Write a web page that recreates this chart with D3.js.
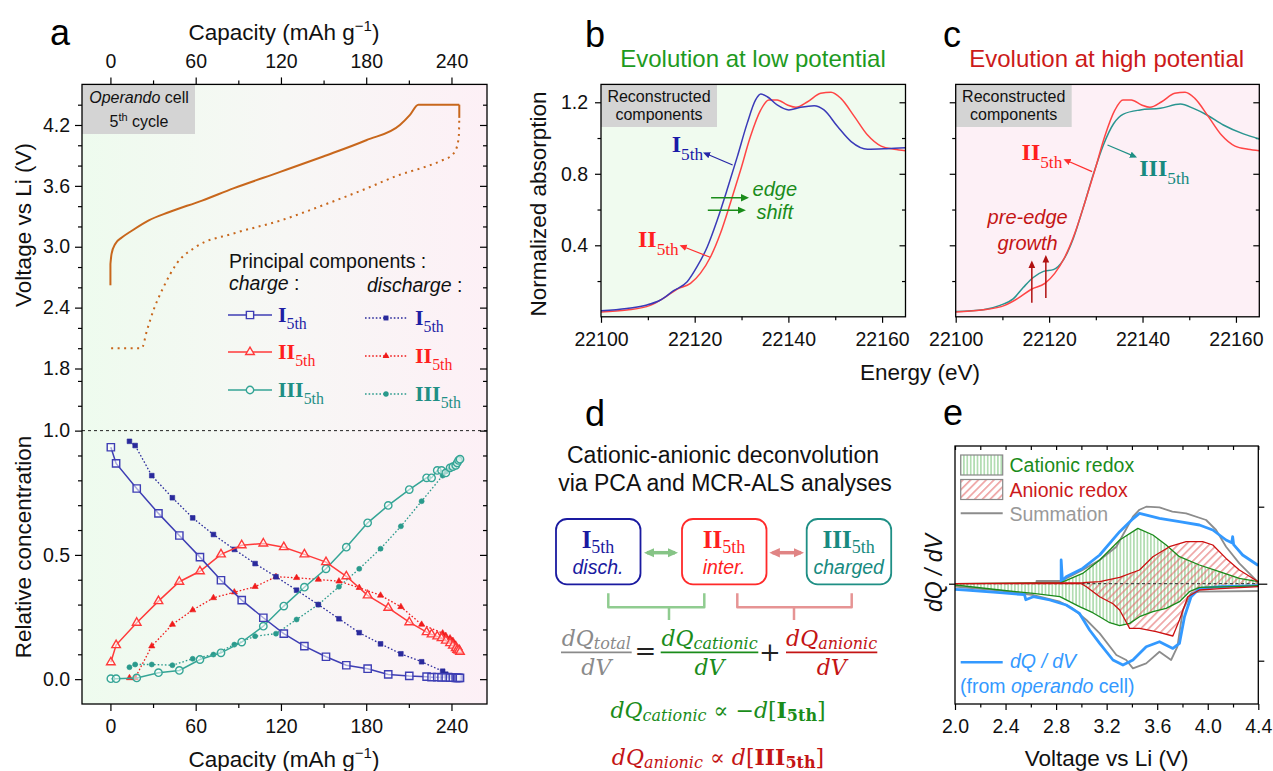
<!DOCTYPE html>
<html>
<head>
<meta charset="utf-8">
<script src="https://cdn.jsdelivr.net/npm/d3@7"></script>
<style>
  body { margin: 0; background: #fff; }
  svg { font-family: "Liberation Sans", Arial, sans-serif; }
</style>
</head>
<body>
<svg id="fig" width="1273" height="771"></svg>
<script>
// ---------- panel a : voltage profile, 5th cycle ----------
const chgCap  = [0, 0, 0.8, 3.5, 8, 15.3, 27, 41, 64.5, 86.5, 120, 149.8, 180, 203.7, 210.8, 216.7, 245.5, 245.5];
const chgVolt = [2.62, 2.83, 2.93, 3.03, 3.09, 3.16, 3.26, 3.34, 3.455, 3.575, 3.74, 3.89, 4.05, 4.2, 4.3, 4.4, 4.4, 4.27];
const disCap  = [245.5, 245.2, 243.5, 240, 234, 220, 203.7, 180.3, 149.8, 120, 86.5, 60.3, 46.7, 37.3, 30.2, 25.6, 22, 0.5];
const disVolt = [4.27, 4.1, 3.97, 3.9, 3.855, 3.78, 3.71, 3.575, 3.41, 3.26, 3.13, 3.0, 2.835, 2.6, 2.37, 2.17, 2.0, 2.0];

// ---------- panel a : relative concentrations ----------
const chgPts = [0.3, 4, 18.5, 33.8, 48.5, 63, 77.8, 92.4, 107.6, 122, 136.5, 151.7, 166, 181, 195.5, 210.3, 222.5, 226, 230, 233, 236, 239, 241, 243, 244, 245, 246];
const chgI   = [0.933, 0.868, 0.767, 0.667, 0.578, 0.491, 0.398, 0.318, 0.247, 0.183, 0.133, 0.090, 0.056, 0.042, 0.019, 0.013, 0.010, 0.008, 0.008, 0.007, 0.007, 0.006, 0.006, 0.005, 0.005, 0.005, 0.005];
const chgII  = [0.068, 0.137, 0.227, 0.314, 0.392, 0.434, 0.502, 0.539, 0.546, 0.531, 0.502, 0.471, 0.414, 0.337, 0.287, 0.229, 0.189, 0.180, 0.172, 0.165, 0.155, 0.145, 0.135, 0.125, 0.118, 0.115, 0.110];
const chgIII = [0.002, 0.002, 0.005, 0.026, 0.035, 0.079, 0.106, 0.149, 0.213, 0.294, 0.370, 0.444, 0.531, 0.629, 0.699, 0.763, 0.810, 0.810, 0.840, 0.840, 0.830, 0.850, 0.855, 0.860, 0.870, 0.880, 0.885];
const disPts = [13.4, 17.4, 29.1, 43.6, 57.9, 72.5, 87.2, 101.8, 116.5, 131, 146.3, 160.8, 175.1, 190.1, 204.4, 219, 233.8, 236, 239, 241, 243, 245.5];
const disI   = [0.957, 0.940, 0.819, 0.730, 0.649, 0.582, 0.522, 0.465, 0.412, 0.358, 0.300, 0.243, 0.187, 0.142, 0.102, 0.070, 0.032, 0.020, 0.015, 0.012, 0.010, 0.010];
const disII  = [0.005, 0.005, 0.133, 0.220, 0.278, 0.327, 0.350, 0.372, 0.412, 0.408, 0.401, 0.394, 0.368, 0.337, 0.291, 0.220, 0.185, 0.175, 0.165, 0.155, 0.140, 0.125];
const disIII = [0.048, 0.059, 0.059, 0.056, 0.082, 0.099, 0.139, 0.173, 0.183, 0.240, 0.300, 0.372, 0.444, 0.525, 0.615, 0.716, 0.819, 0.835, 0.845, 0.858, 0.868, 0.880];

const capTicks = [0, 60, 120, 180, 240];
const capMinor = [30, 90, 150, 210];
const voltTicks = [1.8, 2.4, 3.0, 3.6, 4.2];
const voltMinor = [2.0, 2.2, 2.6, 2.8, 3.2, 3.4, 3.8, 4.0, 4.4];
const concTicks = [0.0, 0.5, 1.0];
const concMinor = [0.1, 0.2, 0.3, 0.4, 0.6, 0.7, 0.8, 0.9, 1.1, 1.2];

// ---------- panels b, c : reconstructed XANES components ----------
const energyI  = [22100, 22105.5, 22109.8, 22112.7, 22115.5, 22118.4, 22120.5, 22122.7, 22124.8, 22126.9, 22129.1, 22131.2, 22133, 22134.1, 22135.5, 22137.6, 22140.1, 22142.6, 22145.5, 22147.6, 22150.5, 22153.4, 22156.9, 22161, 22165];
const absI     = [0.034, 0.047, 0.066, 0.094, 0.146, 0.196, 0.28, 0.392, 0.54, 0.709, 0.896, 1.082, 1.213, 1.246, 1.231, 1.185, 1.157, 1.172, 1.181, 1.157, 1.064, 0.98, 0.937, 0.94, 0.945];
const energyII = [22100, 22105.5, 22110.5, 22113.3, 22116.2, 22119.1, 22121.2, 22123.4, 22125.5, 22127.6, 22129.8, 22131.9, 22134.1, 22135.8, 22137.6, 22139.8, 22141.6, 22144.1, 22146.9, 22149.1, 22151.2, 22154.1, 22156.9, 22159.8, 22162.6, 22165];
const absII    = [0.027, 0.038, 0.064, 0.103, 0.154, 0.187, 0.243, 0.336, 0.467, 0.635, 0.821, 1.008, 1.157, 1.213, 1.213, 1.185, 1.172, 1.203, 1.25, 1.256, 1.222, 1.12, 1.017, 0.955, 0.937, 0.929];
const energyIII = [22100, 22105.9, 22109.5, 22112.3, 22114.5, 22116.6, 22118.8, 22120.9, 22123.1, 22125.2, 22127.3, 22129.5, 22131.6, 22133.8, 22135.9, 22139.5, 22143.8, 22148.1, 22150.9, 22153.8, 22157.3, 22161.6, 22165];
const absIII    = [0.03, 0.04, 0.064, 0.1, 0.165, 0.22, 0.254, 0.264, 0.32, 0.44, 0.61, 0.8, 0.96, 1.08, 1.134, 1.157, 1.166, 1.19, 1.166, 1.129, 1.073, 1.023, 0.995];
const eTicks = [22100, 22120, 22140, 22160];
const eMinor = [22110, 22130, 22150];
const absTicks = [0.4, 0.8, 1.2];
const absMinor = [0.2, 0.6, 1.0];

// ---------- panel e : dQ/dV (arbitrary units) ----------
const blueUpV  = [2.84, 2.84, 2.85, 2.88, 3.01, 3.145, 3.303, 3.40, 3.46, 3.50, 3.618, 3.776, 3.934, 4.04, 4.145, 4.19, 4.197, 4.205, 4.276, 4.394, 4.4];
const blueUpQ  = [0.0, 0.237, 0.03, 0.07, 0.153, 0.287, 0.52, 0.64, 0.703, 0.69, 0.653, 0.62, 0.587, 0.537, 0.437, 0.41, 0.47, 0.39, 0.287, 0.187, 0.185];
const blueLoV  = [2.0, 2.09, 2.355, 2.55, 2.56, 2.62, 2.75, 2.88, 2.985, 3.065, 3.145, 3.25, 3.329, 3.408, 3.513, 3.618, 3.724, 3.776, 3.816, 3.868, 3.934, 4.1, 4.4];
const blueLoQ  = [-0.057, -0.063, -0.09, -0.11, -0.16, -0.13, -0.163, -0.213, -0.297, -0.463, -0.597, -0.763, -0.813, -0.763, -0.63, -0.58, -0.647, -0.597, -0.33, -0.13, -0.047, -0.03, -0.02];
const grayUpV  = [2.645, 2.645, 2.84, 3.01, 3.145, 3.277, 3.408, 3.46, 3.513, 3.618, 3.72, 3.829, 3.987, 4.066, 4.145, 4.25, 4.394, 4.4];
const grayUpQ  = [0.0, 0.027, 0.027, 0.137, 0.237, 0.37, 0.67, 0.74, 0.77, 0.763, 0.72, 0.703, 0.637, 0.537, 0.37, 0.203, 0.02, 0.01];
const grayLoV  = [2.0, 2.355, 2.62, 2.83, 2.93, 3.04, 3.145, 3.277, 3.355, 3.408, 3.513, 3.618, 3.71, 3.76, 3.803, 3.868, 3.934, 4.4];
const grayLoQ  = [-0.03, -0.07, -0.113, -0.18, -0.247, -0.363, -0.497, -0.713, -0.763, -0.847, -0.797, -0.68, -0.763, -0.63, -0.263, -0.097, -0.08, -0.073];
const catUpV   = [2.0, 2.84, 3.01, 3.145, 3.303, 3.447, 3.566, 3.671, 3.776, 3.934, 4.092, 4.25, 4.4];
const catUpQ   = [0, 0.01, 0.103, 0.237, 0.437, 0.553, 0.487, 0.387, 0.27, 0.187, 0.12, 0.053, 0.02];
const catLoV   = [2.0, 2.355, 2.62, 2.83, 2.985, 3.09, 3.145, 3.224, 3.303, 3.382, 3.46, 3.566, 3.671, 3.776, 3.855, 3.934, 4.195, 4.4];
const catLoQ   = [-0.013, -0.063, -0.097, -0.13, -0.23, -0.29, -0.33, -0.39, -0.42, -0.397, -0.33, -0.28, -0.247, -0.18, -0.08, -0.037, -0.03, -0.02];
const anUpV    = [2.0, 3.01, 3.145, 3.303, 3.46, 3.566, 3.697, 3.829, 3.96, 4.04, 4.145, 4.25, 4.4];
const anUpQ    = [0, 0.01, 0.02, 0.063, 0.137, 0.27, 0.37, 0.42, 0.42, 0.387, 0.253, 0.137, 0.02];
const anLoV    = [2.0, 3.0, 3.04, 3.145, 3.25, 3.303, 3.382, 3.46, 3.592, 3.724, 3.776, 3.842, 3.934, 4.1, 4.4];
const anLoQ    = [0, 0, -0.03, -0.13, -0.2, -0.263, -0.447, -0.447, -0.48, -0.523, -0.363, -0.13, -0.063, -0.05, -0.03];
const vTicks = [2.0, 2.4, 2.8, 3.2, 3.6, 4.0, 4.4];
const vMinor = [2.2, 2.6, 3.0, 3.4, 3.8, 4.2];
const dqTicks = [-0.77, 0.77];

const NAVY = "#2626a6", RED = "#ff2f2f", TEAL = "#1f8f85", GREEN = "#1a8c1a", DRED = "#c41414";
const SERIF = "'Liberation Serif', 'Times New Roman', serif";

const svg = d3.select("#fig");
svg.append("rect").attr("width", 1273).attr("height", 771).attr("fill", "#fff");
const defs = svg.append("defs");

const grad = defs.append("linearGradient").attr("id", "bgA")
  .attr("x1", 0).attr("x2", 1).attr("y1", 0).attr("y2", 0);
grad.append("stop").attr("offset", 0).attr("stop-color", "#eefbee");
grad.append("stop").attr("offset", 0.5).attr("stop-color", "#f7f7f5");
grad.append("stop").attr("offset", 1).attr("stop-color", "#fdf0f6");

const hg = defs.append("pattern").attr("id", "hatchG").attr("patternUnits", "userSpaceOnUse")
  .attr("width", 3.4).attr("height", 10);
hg.append("line").attr("x1", 1.7).attr("x2", 1.7).attr("y1", 0).attr("y2", 10)
  .attr("stroke", "#6dbf6d").attr("stroke-width", 0.9);
const hr = defs.append("pattern").attr("id", "hatchR").attr("patternUnits", "userSpaceOnUse")
  .attr("width", 5.5).attr("height", 10).attr("patternTransform", "rotate(45)");
hr.append("line").attr("x1", 2.7).attr("x2", 2.7).attr("y1", 0).attr("y2", 10)
  .attr("stroke", "#e26666").attr("stroke-width", 1);

function arrowHead(id, color, w) {
  defs.append("marker").attr("id", id).attr("viewBox", "0 0 10 10")
    .attr("refX", 7).attr("refY", 5).attr("markerWidth", w).attr("markerHeight", w)
    .attr("orient", "auto-start-reverse")
    .append("path").attr("d", "M0,0.5 L10,5 L0,9.5 Z").attr("fill", color);
}
arrowHead("arNavy", NAVY, 6);
arrowHead("arRed", RED, 6);
arrowHead("arTeal", TEAL, 6);
arrowHead("arGreen", GREEN, 6);
arrowHead("arDred", "#b01010", 5);
arrowHead("arLG", "#86c486", 3);
arrowHead("arLR", "#e08484", 3);

function styleAxis(g, fs) {
  g.select(".domain").remove();
  g.selectAll(".tick line").attr("stroke", "#000").attr("stroke-width", 1.2);
  g.selectAll(".tick text").attr("font-size", fs).attr("fill", "#111")
    .attr("font-family", "'Liberation Sans', Arial, sans-serif");
}
function addAxis(axis, tx, ty) {
  const g = svg.append("g").attr("transform", `translate(${tx},${ty})`).call(axis);
  styleAxis(g, 19.5);
  return g;
}
function romanLabel(parent, x, y, roman, color, fs, anchor, subDy) {
  const t = parent.append("text").attr("x", x).attr("y", y).attr("fill", color)
    .attr("font-family", SERIF).attr("text-anchor", anchor || "start");
  t.append("tspan").attr("font-weight", "bold").attr("font-size", fs).text(roman);
  t.append("tspan").attr("font-size", fs * 0.72).attr("dy", subDy == null ? fs * 0.33 : subDy).text("5th");
  return t;
}
function capTitle(x, y) {
  const t = svg.append("text").attr("x", x).attr("y", y).attr("text-anchor", "middle")
    .attr("font-size", 22.5).attr("fill", "#111");
  t.append("tspan").text("Capacity (mAh g");
  t.append("tspan").attr("font-size", 15).attr("dy", -9).text("\u22121");
  t.append("tspan").attr("dy", 9).text(")");
}

// =================== panel a ===================
const aX = d3.scaleLinear().domain([-20, 265]).range([82, 487]);
const aV = d3.scaleLinear().domain([1.8, 4.6]).range([368.5, 84.4]);
const aC = d3.scaleLinear().domain([-0.1, 1.25]).range([704, 368.5]);

svg.append("rect").attr("x", 82).attr("y", 84.4).attr("width", 405).attr("height", 619.6).attr("fill", "url(#bgA)");
svg.append("rect").attr("x", 82).attr("y", 84.4).attr("width", 113).attr("height", 49.6).attr("fill", "#d4d4d4");
const opc = svg.append("text").attr("x", 139).attr("y", 103).attr("text-anchor", "middle").attr("font-size", 16).attr("fill", "#111");
opc.append("tspan").attr("font-style", "italic").text("Operando");
opc.append("tspan").text(" cell");
const cyc = svg.append("text").attr("x", 139).attr("y", 127).attr("text-anchor", "middle").attr("font-size", 16).attr("fill", "#111");
cyc.append("tspan").text("5");
cyc.append("tspan").attr("font-size", 11).attr("dy", -6).text("th");
cyc.append("tspan").attr("dy", 6).text(" cycle");

// dashed reference at 1.0
svg.append("line").attr("x1", 82).attr("x2", 487).attr("y1", aC(1)).attr("y2", aC(1))
  .attr("stroke", "#222").attr("stroke-width", 1).attr("stroke-dasharray", "3,3");

// voltage curves: vertical ends drawn straight, the rest smoothed
function voltPath(xs, ys, dash) {
  const pts = xs.map((x, i) => [aX(x), aV(ys[i])]);
  const segs = [];
  let start = 0;
  for (let i = 1; i < pts.length; i++) {
    if (xs[i] === xs[i - 1]) {
      if (i - 1 > start) segs.push({ p: pts.slice(start, i), smooth: true });
      segs.push({ p: [pts[i - 1], pts[i]], smooth: false });
      start = i;
    }
  }
  if (pts.length - 1 > start) segs.push({ p: pts.slice(start), smooth: true });
  segs.forEach(s => {
    const ordered = s.p[0][0] > s.p[s.p.length - 1][0] ? s.p.slice().reverse() : s.p;
    const line = d3.line().curve(s.smooth ? d3.curveMonotoneX : d3.curveLinear);
    svg.append("path").attr("d", line(ordered)).attr("fill", "none")
      .attr("stroke", "#c8671c").attr("stroke-width", 2).attr("stroke-dasharray", dash);
  });
}
voltPath(chgCap, chgVolt, null);
voltPath(disCap, disVolt, "2,4.5");

// concentration series
function concSeries(xs, ys, color, sym, open, dotted) {
  const line = d3.line().x((d, i) => aX(xs[i])).y((d, i) => aC(ys[i]));
  svg.append("path").attr("d", line(xs)).attr("fill", "none").attr("stroke", color)
    .attr("stroke-width", dotted ? 1.3 : 1.5).attr("stroke-dasharray", dotted ? "1.6,2" : null);
  const sizes = open ? { sq: 53, tri: 32, cir: 43 } : { sq: 22, tri: 17, cir: 20 };
  const shape = sym === "sq" ? d3.symbolSquare : sym === "tri" ? d3.symbolTriangle : d3.symbolCircle;
  svg.append("g").selectAll("path").data(xs).join("path")
    .attr("transform", (d, i) => `translate(${aX(d)},${aC(ys[i])})`)
    .attr("d", d3.symbol().type(shape).size(sizes[sym]))
    .attr("fill", open ? "rgba(255,255,255,0.55)" : color)
    .attr("stroke", color).attr("stroke-width", open ? 1.4 : 0.6);
}
concSeries(disPts, disIII, "#2a9a8c", "cir", false, true);
concSeries(disPts, disII, "#f01c1c", "tri", false, true);
concSeries(disPts, disI, "#2a2a9c", "sq", false, true);
concSeries(chgPts, chgIII, "#35a596", "cir", true, false);
concSeries(chgPts, chgII, "#ff3a3a", "tri", true, false);
concSeries(chgPts, chgI, "#3e3eb4", "sq", true, false);

// frame and axes
svg.append("rect").attr("x", 82).attr("y", 84.4).attr("width", 405).attr("height", 619.6)
  .attr("fill", "none").attr("stroke", "#000").attr("stroke-width", 1.3);
addAxis(d3.axisTop(aX).tickValues(capTicks).tickSize(7).tickPadding(9), 0, 84.4);
addAxis(d3.axisTop(aX).tickValues(capMinor).tickSize(4).tickFormat(""), 0, 84.4);
addAxis(d3.axisBottom(aX).tickValues(capTicks).tickSize(7).tickPadding(8), 0, 704);
addAxis(d3.axisBottom(aX).tickValues(capMinor).tickSize(4).tickFormat(""), 0, 704);
addAxis(d3.axisLeft(aV).tickValues(voltTicks).tickSize(7).tickPadding(5).tickFormat(d3.format(".1f")), 82, 0);
addAxis(d3.axisLeft(aV).tickValues(voltMinor).tickSize(4).tickFormat(""), 82, 0);
addAxis(d3.axisRight(aV).tickValues(voltTicks).tickSize(-7).tickFormat(""), 487, 0);
addAxis(d3.axisRight(aV).tickValues(voltMinor).tickSize(-4).tickFormat(""), 487, 0);
addAxis(d3.axisLeft(aC).tickValues(concTicks).tickSize(7).tickPadding(5).tickFormat(d3.format(".1f")), 82, 0);
addAxis(d3.axisLeft(aC).tickValues(concMinor).tickSize(4).tickFormat(""), 82, 0);
addAxis(d3.axisRight(aC).tickValues(concTicks).tickSize(-7).tickFormat(""), 487, 0);
addAxis(d3.axisRight(aC).tickValues(concMinor).tickSize(-4).tickFormat(""), 487, 0);

capTitle(284, 40);
capTitle(284, 767);
svg.append("text").attr("transform", "translate(31,225) rotate(-90)").attr("text-anchor", "middle")
  .attr("font-size", 22.5).attr("fill", "#111").text("Voltage vs Li (V)");
svg.append("text").attr("transform", "translate(31,547) rotate(-90)").attr("text-anchor", "middle")
  .attr("font-size", 22.5).attr("fill", "#111").text("Relative concentration");
svg.append("text").attr("x", 50).attr("y", 45).attr("font-size", 36).attr("fill", "#000").text("a");

// legend in panel a
svg.append("text").attr("x", 229).attr("y", 268).attr("font-size", 19.5).attr("fill", "#111").text("Principal components :");
const lc = svg.append("text").attr("x", 229).attr("y", 290).attr("font-size", 19.5).attr("fill", "#111");
lc.append("tspan").attr("font-style", "italic").text("charge");
lc.append("tspan").text(" :");
const ld = svg.append("text").attr("x", 367).attr("y", 292).attr("font-size", 19.5).attr("fill", "#111");
ld.append("tspan").attr("font-style", "italic").text("discharge");
ld.append("tspan").text(" :");

const legRows = [
  { roman: "I", line: "#3e3eb4", dline: "#2a2a9c", txt: "#1f1fa5", sym: d3.symbolSquare, so: 53, sf: 24, yc: 315, yd: 318 },
  { roman: "II", line: "#ff3a3a", dline: "#f01c1c", txt: "#ff1f1f", sym: d3.symbolTriangle, so: 32, sf: 20, yc: 352, yd: 356 },
  { roman: "III", line: "#35a596", dline: "#2a9a8c", txt: "#1f8f85", sym: d3.symbolCircle, so: 43, sf: 22, yc: 390, yd: 394 }
];
legRows.forEach(r => {
  svg.append("line").attr("x1", 228).attr("x2", 272).attr("y1", r.yc).attr("y2", r.yc)
    .attr("stroke", r.line).attr("stroke-width", 1.5);
  svg.append("path").attr("transform", `translate(250,${r.yc})`).attr("d", d3.symbol().type(r.sym).size(r.so))
    .attr("fill", "#f6f8f6").attr("stroke", r.line).attr("stroke-width", 1.4);
  romanLabel(svg, 278, r.yc + 7, r.roman, r.txt, 22);
  svg.append("line").attr("x1", 365).attr("x2", 407).attr("y1", r.yd).attr("y2", r.yd)
    .attr("stroke", r.dline).attr("stroke-width", 1.3).attr("stroke-dasharray", "1.6,2");
  svg.append("path").attr("transform", `translate(386,${r.yd})`).attr("d", d3.symbol().type(r.sym).size(r.sf))
    .attr("fill", r.dline);
  romanLabel(svg, 415, r.yd + 7, r.roman, r.txt, 22);
});

// =================== panels b and c ===================
const bX = d3.scaleLinear().domain([22100, 22165]).range([601, 905.5]);
const cX = d3.scaleLinear().domain([22100, 22165]).range([955.7, 1259.3]);
const bY = d3.scaleLinear().domain([0, 1.3]).range([316.8, 84.4]);

function xanesPanel(xS, bg, left, right, labels) {
  svg.append("rect").attr("x", left).attr("y", 84.4).attr("width", right - left).attr("height", 232.4).attr("fill", bg);
  svg.append("rect").attr("x", left).attr("y", 84.4).attr("width", 116).attr("height", 42.6).attr("fill", "#d4d4d4");
  svg.append("text").attr("x", left + 58).attr("y", 102).attr("text-anchor", "middle").attr("font-size", 16).attr("fill", "#111").text("Reconstructed");
  svg.append("text").attr("x", left + 58).attr("y", 120).attr("text-anchor", "middle").attr("font-size", 16).attr("fill", "#111").text("components");
  addAxis(d3.axisBottom(xS).tickValues(eTicks).tickSize(6).tickPadding(9.4).tickFormat(d3.format("d")), 0, 316.8);
  addAxis(d3.axisBottom(xS).tickValues(eMinor).tickSize(3.5).tickFormat(""), 0, 316.8);
  const la = d3.axisLeft(bY).tickValues(absTicks).tickSize(6).tickPadding(7);
  addAxis(labels ? la.tickFormat(d3.format(".1f")) : la.tickFormat(""), left, 0);
  addAxis(d3.axisLeft(bY).tickValues(absMinor).tickSize(3.5).tickFormat(""), left, 0);
  addAxis(d3.axisRight(bY).tickValues(absTicks).tickSize(-6).tickFormat(""), right, 0);
  addAxis(d3.axisRight(bY).tickValues(absMinor).tickSize(-3.5).tickFormat(""), right, 0);
}
function xanesCurve(xS, xs, ys, color) {
  const line = d3.line().curve(d3.curveMonotoneX).x((d, i) => xS(xs[i])).y((d, i) => bY(ys[i]));
  svg.append("path").attr("d", line(xs)).attr("fill", "none").attr("stroke", color).attr("stroke-width", 1.5);
}
function frame(left, right, top, bottom) {
  svg.append("rect").attr("x", left).attr("y", top).attr("width", right - left).attr("height", bottom - top)
    .attr("fill", "none").attr("stroke", "#000").attr("stroke-width", 1.3);
}
function arrow(x1, y1, x2, y2, color, marker, w) {
  svg.append("line").attr("x1", x1).attr("y1", y1).attr("x2", x2).attr("y2", y2)
    .attr("stroke", color).attr("stroke-width", w || 1.2).attr("marker-end", `url(#${marker})`);
}

// panel b
xanesPanel(bX, "#f0fbef", 601, 905.5, true);
xanesCurve(bX, energyII, absII, "#ff4545");
xanesCurve(bX, energyI, absI, "#3a3ab8");
frame(601, 905.5, 84.4, 316.8);
svg.append("text").attr("x", 585).attr("y", 46.7).attr("font-size", 36).attr("fill", "#000").text("b");
svg.append("text").attr("x", 753).attr("y", 66.7).attr("text-anchor", "middle").attr("font-size", 24)
  .attr("fill", "#1e9a1e").text("Evolution at low potential");
romanLabel(svg, bX(22115.1), bY(0.924), "I", "#1a1aa8", 24);
arrow(bX(22128.1), bY(0.849), bX(22122.2), bY(0.915), NAVY, "arNavy");
romanLabel(svg, bX(22107.9), bY(0.392), "II", "#ff1f1f", 24);
arrow(bX(22123.3), bY(0.333), bX(22117.2), bY(0.396), RED, "arRed");
arrow(bX(22123.5), bY(0.666), bX(22131.1), bY(0.666), GREEN, "arGreen", 1.4);
arrow(bX(22122.8), bY(0.596), bX(22130.4), bY(0.596), GREEN, "arGreen", 1.4);
svg.append("text").attr("x", bX(22137.1)).attr("y", bY(0.676)).attr("text-anchor", "middle")
  .attr("font-size", 20).attr("font-style", "italic").attr("fill", GREEN).text("edge");
svg.append("text").attr("x", bX(22137.1)).attr("y", bY(0.545)).attr("text-anchor", "middle")
  .attr("font-size", 20).attr("font-style", "italic").attr("fill", GREEN).text("shift");
svg.append("text").attr("transform", "translate(546,204) rotate(-90)").attr("text-anchor", "middle")
  .attr("font-size", 22.5).attr("fill", "#111").text("Normalized absorption");

// panel c
xanesPanel(cX, "#fdf0f6", 955.7, 1259.3, false);
xanesCurve(cX, energyIII, absIII, "#2a9590");
xanesCurve(cX, energyII, absII, "#ff4545");
frame(955.7, 1259.3, 84.4, 316.8);
svg.append("text").attr("x", 943).attr("y", 46.7).attr("font-size", 36).attr("fill", "#000").text("c");
svg.append("text").attr("x", 1106.7).attr("y", 66.7).attr("text-anchor", "middle").attr("font-size", 24)
  .attr("fill", "#cc1a1a").text("Evolution at high potential");
romanLabel(svg, cX(22114.1), bY(0.877), "II", "#ff1f1f", 24);
arrow(cX(22129.2), bY(0.812), cX(22123.5), bY(0.877), RED, "arRed");
romanLabel(svg, cX(22139.3), bY(0.788), "III", "#178a80", 24);
arrow(cX(22132.5), bY(0.961), cX(22138.4), bY(0.896), TEAL, "arTeal");
svg.append("text").attr("x", cX(22115.4)).attr("y", bY(0.519)).attr("text-anchor", "middle")
  .attr("font-size", 20).attr("font-style", "italic").attr("fill", "#c41414").text("pre-edge");
svg.append("text").attr("x", cX(22115.4)).attr("y", bY(0.374)).attr("text-anchor", "middle")
  .attr("font-size", 20).attr("font-style", "italic").attr("fill", "#c41414").text("growth");
arrow(cX(22116.3), bY(0.079), cX(22116.3), bY(0.303), "#b01010", "arDred", 1.5);
arrow(cX(22119.3), bY(0.105), cX(22119.3), bY(0.333), "#b01010", "arDred", 1.5);

svg.append("text").attr("x", 920).attr("y", 380).attr("text-anchor", "middle").attr("font-size", 22.5)
  .attr("fill", "#111").text("Energy (eV)");

// =================== panel d ===================
svg.append("text").attr("x", 585).attr("y", 426).attr("font-size", 36).attr("fill", "#000").text("d");
svg.append("text").attr("x", 723).attr("y", 463).attr("text-anchor", "middle").attr("font-size", 23)
  .attr("fill", "#111").text("Cationic-anionic deconvolution");
svg.append("text").attr("x", 725).attr("y", 490.5).attr("text-anchor", "middle").attr("font-size", 23)
  .attr("fill", "#111").text("via PCA and MCR-ALS analyses");

const boxes = [
  { x: 556, roman: "I", word: "disch.", stroke: "#1a1aa0", txt: "#1a1aa0" },
  { x: 682, roman: "II", word: "inter.", stroke: "#ff2a2a", txt: "#ff1f1f" },
  { x: 806.7, roman: "III", word: "charged", stroke: TEAL, txt: "#178a80" }
];
boxes.forEach(b => {
  svg.append("rect").attr("x", b.x).attr("y", 519).attr("width", 84.5).attr("height", 65.3)
    .attr("rx", 11).attr("fill", "#fff").attr("stroke", b.stroke).attr("stroke-width", 1.8);
  romanLabel(svg, b.x + 42, 548.3, b.roman, b.txt, 25, "middle", 4.5);
  svg.append("text").attr("x", b.x + 42).attr("y", 574).attr("text-anchor", "middle").attr("font-size", 19.5)
    .attr("font-style", "italic").attr("fill", b.txt).text(b.word);
});
svg.append("line").attr("x1", 647).attr("x2", 675).attr("y1", 552.7).attr("y2", 552.7)
  .attr("stroke", "#86c486").attr("stroke-width", 3.5)
  .attr("marker-start", "url(#arLG)").attr("marker-end", "url(#arLG)");
svg.append("line").attr("x1", 772.5).attr("x2", 801).attr("y1", 552.7).attr("y2", 552.7)
  .attr("stroke", "#e08484").attr("stroke-width", 3.5)
  .attr("marker-start", "url(#arLR)").attr("marker-end", "url(#arLR)");
svg.append("path").attr("d", "M608.3,593.3 V607.3 H704.3 V593.3 M669,607.3 V620")
  .attr("fill", "none").attr("stroke", "#90cc90").attr("stroke-width", 2.5).attr("stroke-linejoin", "round");
svg.append("path").attr("d", "M737.3,593.3 V607.3 H851.7 V593.3 M794,607.3 V620")
  .attr("fill", "none").attr("stroke", "#e69494").attr("stroke-width", 2.5).attr("stroke-linejoin", "round");

const MATH = "'DejaVu Serif', 'Liberation Serif', serif";
function mathText(x, y, color, pieces) {
  const t = svg.append("text").attr("x", x).attr("y", y).attr("text-anchor", "middle")
    .attr("fill", color).attr("font-family", MATH);
  pieces.forEach(p => {
    t.append("tspan").attr("font-size", p[1]).attr("font-style", p[2] ? "italic" : "normal")
      .attr("font-weight", p[3] ? "bold" : "normal").attr("dy", p[4] || 0).text(p[0]);
  });
}
function fraction(x1, x2, color, sub) {
  const cx = (x1 + x2) / 2;
  mathText(cx, 646, color, [["dQ", 22, true], [sub, 16, true, false, 3]]);
  svg.append("line").attr("x1", x1).attr("x2", x2).attr("y1", 652.3).attr("y2", 652.3)
    .attr("stroke", color).attr("stroke-width", 1.8);
  mathText(cx, 675, color, [["dV", 22, true]]);
}
fraction(561, 631.7, "#8a8a8a", "total");
fraction(660.7, 758.3, GREEN, "cationic");
fraction(786, 877.3, DRED, "anionic");
mathText(645.5, 660, "#222", [["=", 26]]);
mathText(770, 661, "#222", [["+", 26]]);
mathText(718, 718, GREEN, [["dQ", 22, true], ["cationic", 16, true, false, 3], [" \u221d \u2212", 22, false, false, -3],
  ["d", 22, true], ["[", 22], ["I", 22, false, true], ["5th", 16, false, true, 3], ["]", 22, false, false, -3]]);
mathText(718, 765, DRED, [["dQ", 22, true], ["anionic", 16, true, false, 3], [" \u221d ", 22, false, false, -3],
  ["d", 22, true], ["[", 22], ["III", 22, false, true], ["5th", 16, false, true, 3], ["]", 22, false, false, -3]]);

// =================== panel e ===================
const eX = d3.scaleLinear().domain([2.0, 4.4]).range([955, 1258.3]);
const eY = d3.scaleLinear().domain([-1.203, 1.377]).range([704, 446]);

function bandPath(upV, upQ, loV, loQ) {
  const pts = upV.map((v, i) => [eX(v), eY(upQ[i])])
    .concat(loV.map((v, i) => [eX(v), eY(loQ[i])]).reverse());
  return d3.line()(pts) + "Z";
}
function eCurve(vs, qs, color, w) {
  const line = d3.line().x((d, i) => eX(vs[i])).y((d, i) => eY(qs[i]));
  svg.append("path").attr("d", line(vs)).attr("fill", "none").attr("stroke", color)
    .attr("stroke-width", w).attr("stroke-linejoin", "round");
}
svg.append("path").attr("d", bandPath(catUpV, catUpQ, catLoV, catLoQ)).attr("fill", "url(#hatchG)");
svg.append("path").attr("d", bandPath(anUpV, anUpQ, anLoV, anLoQ)).attr("fill", "url(#hatchR)");
svg.append("line").attr("x1", eX(2.0)).attr("x2", eX(4.4)).attr("y1", eY(0)).attr("y2", eY(0))
  .attr("stroke", "#444").attr("stroke-width", 1.2).attr("stroke-dasharray", "3,2.5");
eCurve(grayUpV, grayUpQ, "#8c8c8c", 1.8);
eCurve(grayLoV, grayLoQ, "#8c8c8c", 1.8);
eCurve(blueUpV, blueUpQ, "#3399ff", 2.8);
eCurve(blueLoV, blueLoQ, "#3399ff", 2.8);
eCurve(catUpV, catUpQ, "#1a8a1a", 1.3);
eCurve(catLoV, catLoQ, "#1a8a1a", 1.3);
eCurve(anUpV, anUpQ, "#cc1010", 1.3);
eCurve(anLoV, anLoQ, "#cc1010", 1.3);

frame(955, 1258.3, 446, 704);
addAxis(d3.axisBottom(eX).tickValues(vTicks).tickSize(6).tickPadding(9.5).tickFormat(d3.format(".1f")), 0, 704);
addAxis(d3.axisBottom(eX).tickValues(vMinor).tickSize(3.5).tickFormat(""), 0, 704);
addAxis(d3.axisTop(eX).tickValues(vTicks.concat(vMinor)).tickSize(-4).tickFormat(""), 0, 446);
addAxis(d3.axisRight(eY).tickValues(dqTicks).tickSize(6).tickFormat(""), 1258.3, 0);
addAxis(d3.axisRight(eY).tickValues([0]).tickSize(9).tickFormat(""), 1258.3, 0);
addAxis(d3.axisLeft(eY).tickValues([0]).tickSize(6).tickFormat(""), 955, 0);

svg.append("text").attr("x", 943).attr("y", 425).attr("font-size", 36).attr("fill", "#000").text("e");
svg.append("text").attr("transform", "translate(942,573) rotate(-90)").attr("text-anchor", "middle")
  .attr("font-size", 23).attr("font-style", "italic").attr("fill", "#111").text("dQ / dV");
svg.append("text").attr("x", 1106.7).attr("y", 766).attr("text-anchor", "middle").attr("font-size", 22.5)
  .attr("fill", "#111").text("Voltage vs Li (V)");

// legend e
svg.append("rect").attr("x", 960.7).attr("y", 455).attr("width", 42).attr("height", 20)
  .attr("fill", "url(#hatchG)").attr("stroke", "#888").attr("stroke-width", 1.2);
svg.append("text").attr("x", 1009.5).attr("y", 471.7).attr("font-size", 19.5).attr("fill", GREEN).text("Cationic redox");
svg.append("rect").attr("x", 960.7).attr("y", 479.5).attr("width", 42).attr("height", 20)
  .attr("fill", "url(#hatchR)").attr("stroke", "#888").attr("stroke-width", 1.2);
svg.append("text").attr("x", 1009.5).attr("y", 496.5).attr("font-size", 19.5).attr("fill", "#cc1a1a").text("Anionic redox");
svg.append("line").attr("x1", 960.7).attr("x2", 1002.7).attr("y1", 513.3).attr("y2", 513.3)
  .attr("stroke", "#8c8c8c").attr("stroke-width", 2);
svg.append("text").attr("x", 1009.5).attr("y", 521).attr("font-size", 19.5).attr("fill", "#999").text("Summation");
svg.append("line").attr("x1", 960.7).attr("x2", 1002.7).attr("y1", 662.3).attr("y2", 662.3)
  .attr("stroke", "#3399ff").attr("stroke-width", 2.5);
svg.append("text").attr("x", 1010).attr("y", 668).attr("font-size", 19.5).attr("font-style", "italic")
  .attr("fill", "#3399ff").text("dQ / dV");
const fo = svg.append("text").attr("x", 960).attr("y", 693).attr("font-size", 19.5).attr("fill", "#3399ff");
fo.append("tspan").text("(from ");
fo.append("tspan").attr("font-style", "italic").text("operando");
fo.append("tspan").text(" cell)");
</script>
</body>
</html>
